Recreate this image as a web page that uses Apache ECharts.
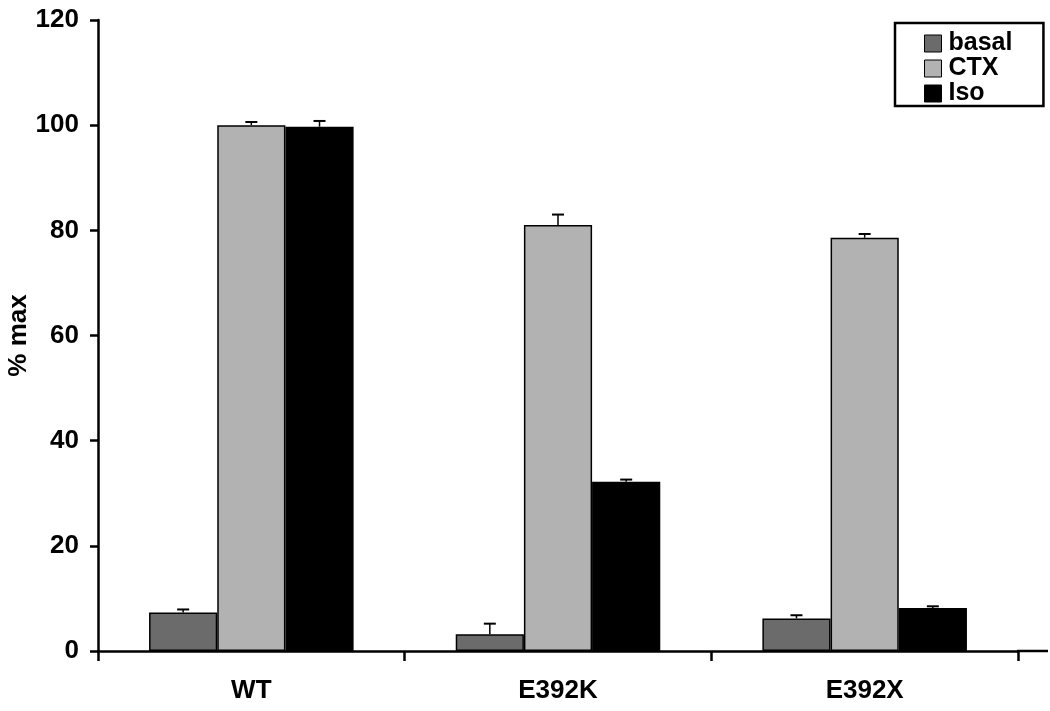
<!DOCTYPE html>
<html>
<head>
<meta charset="utf-8">
<script src="https://cdn.jsdelivr.net/npm/echarts@6/dist/echarts.min.js"></script>
<style>html,body{margin:0;padding:0;background:#fff}#c{width:1050px;height:711px}</style>
</head>
<body>
<div id="c"></div>
<script>
const categories = ['WT', 'E392K', 'E392X'];
const seriesNames = ['basal', 'CTX', 'Iso'];
const basal = [7.3, 3.2, 6.2];
const ctx = [100.0, 81.0, 78.6];
const iso = [99.7, 32.2, 8.2];
const basalErr = [0.6, 2.0, 0.6];
const ctxErr = [0.6, 2.0, 0.7];
const isoErr = [1.1, 0.4, 0.3];
const yTicks = [0, 20, 40, 60, 80, 100, 120];

const colors = ['#6b6b6b', '#b2b2b2', '#000000'];
const values = [basal, ctx, iso];
const errs = [basalErr, ctxErr, isoErr];
const GAP = 0.333; // barCategoryGap fraction
const font = '"Liberation Sans", Arial, sans-serif';

const GRID = {left: 98, right: 32, top: 20, bottom: 60};

const chart = echarts.init(document.getElementById('c'), null, {renderer: 'canvas'});

const barSeries = seriesNames.map((n, i) => ({
  name: n,
  type: 'bar',
  data: values[i],
  barGap: '0%',
  barCategoryGap: (GAP * 100) + '%',
  itemStyle: {color: colors[i], borderColor: '#000', borderWidth: 1.5},
  emphasis: {disabled: true}
}));

const errSeries = seriesNames.map((n, i) => ({
  type: 'custom',
  name: n + '_err',
  z: 1,
  data: categories.map((c, k) => [k, values[i][k], values[i][k] + errs[i][k]]),
  renderItem: function (params, api) {
    const k = api.value(0);
    const lo = api.coord([k, api.value(1)]);
    const hi = api.coord([k, api.value(2)]);
    const catW = api.size([1, 0])[0];
    const bw = catW * (1 - GAP) / 3;
    const x = lo[0] + (i - 1) * bw;
    const cap = 6;
    return {
      type: 'group',
      children: [
        {type: 'line', shape: {x1: x, y1: lo[1], x2: x, y2: hi[1]}, style: {stroke: '#000', lineWidth: 1.5}},
        {type: 'line', shape: {x1: x - cap, y1: hi[1], x2: x + cap, y2: hi[1]}, style: {stroke: '#000', lineWidth: 2}}
      ]
    };
  }
}));

chart.setOption({
  animation: false,
  backgroundColor: '#fff',
  grid: Object.assign({containLabel: false, outerBoundsMode: 'none'}, GRID),
  legend: {
    data: seriesNames,
    orient: 'vertical',
    left: 895,
    top: 23,
    padding: [8, 31, 0, 29],
    itemGap: 0,
    itemWidth: 17,
    itemHeight: 17,
    borderColor: '#000',
    borderWidth: 2.5,
    borderRadius: 0,
    icon: 'rect',
    itemStyle: {borderColor: '#000', borderWidth: 1},
    textStyle: {fontFamily: font, fontSize: 25, fontWeight: 'bold', color: '#000', lineHeight: 25, padding: [0, 0, 0, 2]},
    selectedMode: false
  },
  graphic: [{
    type: 'line',
    shape: {x1: 1050 - GRID.right - 1, y1: 711 - GRID.bottom, x2: 1048, y2: 711 - GRID.bottom},
    style: {stroke: '#000', lineWidth: 2.5},
    z: 10
  }],
  xAxis: {
    type: 'category',
    data: categories,
    axisLine: {lineStyle: {color: '#000', width: 2.5}},
    axisTick: {show: true, inside: false, length: 10, alignWithLabel: false, lineStyle: {color: '#000', width: 2.5}},
    axisLabel: {fontFamily: font, fontSize: 26, fontWeight: 'bold', color: '#000', margin: 27}
  },
  yAxis: {
    type: 'value',
    min: 0,
    max: 120,
    interval: 20,
    name: '% max',
    nameLocation: 'middle',
    nameGap: 66,
    nameMoveOverlap: false,
    nameTextStyle: {fontFamily: font, fontSize: 26, fontWeight: 'bold', color: '#000'},
    splitLine: {show: false},
    axisLine: {show: true, lineStyle: {color: '#000', width: 2.5}},
    axisTick: {show: true, length: 8, lineStyle: {color: '#000', width: 2.5}},
    axisLabel: {fontFamily: font, fontSize: 26, fontWeight: 'bold', color: '#000', margin: 19,
      formatter: v => yTicks.includes(v) ? String(v) : ''}
  },
  series: [...errSeries, ...barSeries]
});
</script>
</body>
</html>
